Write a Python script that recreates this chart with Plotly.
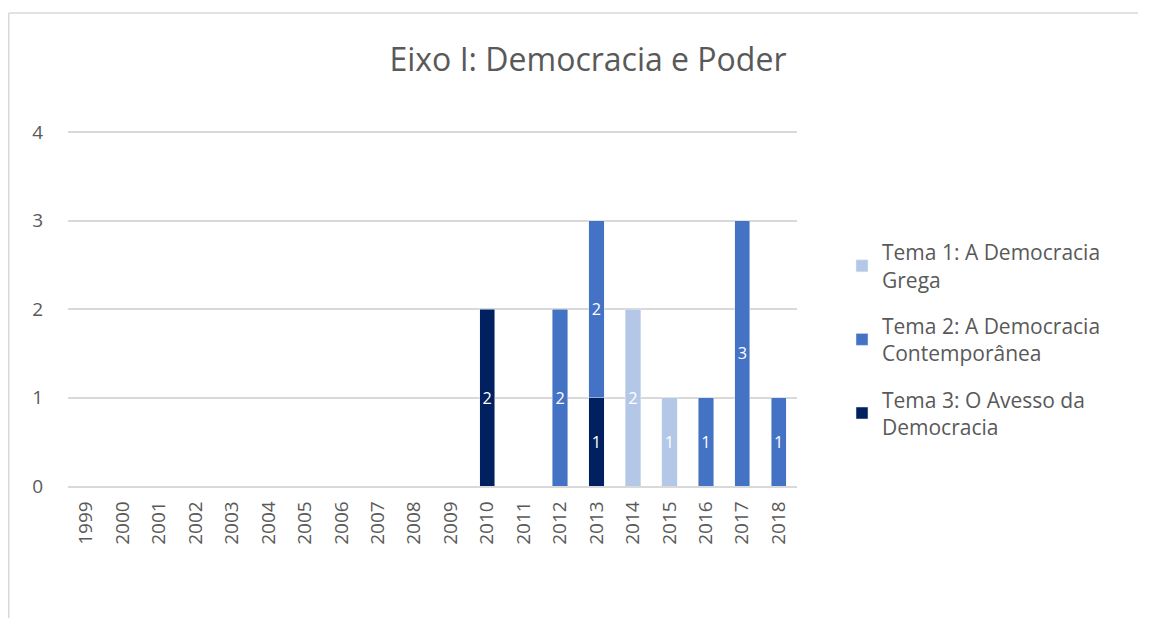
import plotly.graph_objects as go

years = [str(y) for y in range(1999, 2019)]
tema1 = [None, None, None, None, None, None, None, None, None, None, None, None, None, None, None, 2, 1, None, None, None]
tema2 = [None, None, None, None, None, None, None, None, None, None, None, None, None, 2, 2, None, None, 1, 3, 1]
tema3 = [None, None, None, None, None, None, None, None, None, None, None, 2, None, None, 1, None, None, None, None, None]

names = ["Tema 1: A Democracia<br>Grega", "Tema 2: A Democracia<br>Contemporânea", "Tema 3: O Avesso da<br>Democracia"]
colors = ["#B4C7E7", "#4472C4", "#002060"]

FONT = "Open Sans"
GREY = "#595959"

fig = go.Figure()
for vals, name, col, grp, rank in [(tema3, names[2], colors[2], "g3", 3),
                                   (tema2, names[1], colors[1], "g2", 2),
                                   (tema1, names[0], colors[0], "g1", 1)]:
    fig.add_trace(go.Bar(
        x=years, y=vals, name=name, marker_color=col, legendgroup=grp, legendrank=rank,
        text=[("" if v is None else str(v)) for v in vals],
        textposition="inside", insidetextanchor="middle",
        textfont=dict(color="white", size=20, family=FONT),
        width=0.42, cliponaxis=False,
    ))

# page offset of 8px (browser body margin) compensated
W, H = 1130, 610
L, T = 60, 120
R = W - 789
B = H - 478
pw, ph = W - L - R, H - T - B
unit = 88.5
ytop = ph / unit

def px(x):
    return (x - L) / pw

def py(y):
    return (H - B - y) / ph

border = dict(color="#D9D9D9", width=1.5)
fig.update_layout(
    width=W, height=H, barmode="stack",
    margin=dict(l=L, r=R, t=T, b=B, autoexpand=False),
    paper_bgcolor="white", plot_bgcolor="white",
    font=dict(family=FONT, color=GREY, size=16),
    title=dict(text="Eixo I: Democracia e Poder", x=580 / W, xanchor="center",
               y=1 - 52 / H, yanchor="middle", font=dict(size=32, family=FONT, color=GREY)),
    legend=dict(x=px(834), xanchor="left", y=py(224), yanchor="top",
                traceorder="grouped", tracegroupgap=16,
                font=dict(size=21, family=FONT, color=GREY), bgcolor="rgba(0,0,0,0)"),
    showlegend=True,
    shapes=[
        dict(type="line", xref="paper", yref="paper", x0=px(0.75), x1=px(1300), y0=py(5), y1=py(5), line=border, layer="below"),
        dict(type="line", xref="paper", yref="paper", x0=px(0.75), x1=px(0.75), y0=py(5), y1=py(700), line=border, layer="below"),
    ],
)
fig.update_xaxes(type="category", tickangle=-90, tickfont=dict(size=19, color=GREY, family=FONT),
                 showgrid=False, showline=True, linecolor="#D9D9D9", linewidth=1.5, ticks="",
                 ticklabelstandoff=6, automargin=False)
fig.update_yaxes(range=[0, ytop], tickvals=[0, 1, 2, 3, 4], showgrid=True, gridcolor="#D9D9D9", gridwidth=1.5,
                 zeroline=False, showline=False, ticks="", tickfont=dict(size=19, color=GREY, family=FONT),
                 ticklabelstandoff=24, automargin=False)

fig.write_html("out.html")
